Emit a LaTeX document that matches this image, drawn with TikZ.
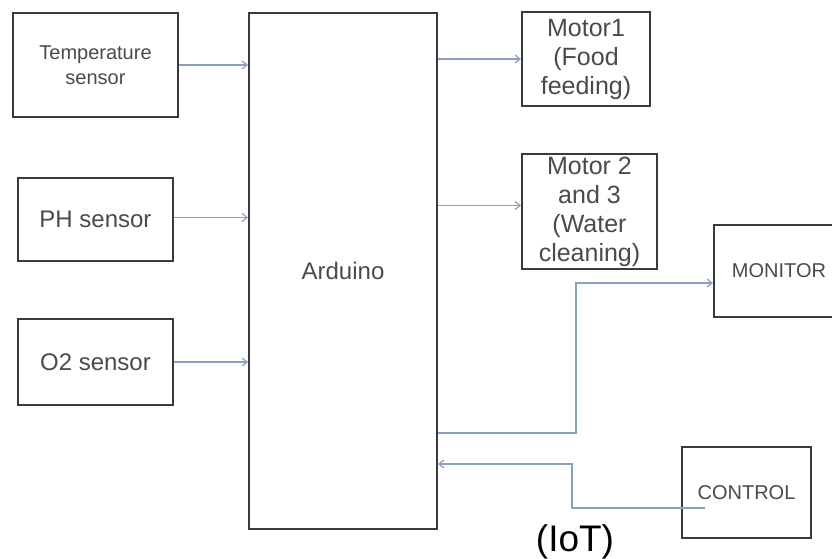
\documentclass[tikz,border=0pt]{standalone}
\usepackage{fontspec}
\setmainfont{Liberation Sans}
\usepackage{xcolor}
\usepackage{tikz}
\usetikzlibrary{positioning,calc,arrows.meta}
\definecolor{boxline}{HTML}{3A3A3A}
\definecolor{linkline}{HTML}{8CA0C4}
\definecolor{txt}{HTML}{4A4A4A}

\begin{document}
\begin{tikzpicture}[x=1pt, y=-1pt,
  block/.style={draw=boxline, line width=2pt, rectangle, inner sep=0pt, align=center, text=txt},
  link/.style={draw=linkline, line width=1.2pt, -{Straight Barb[length=5pt,width=8pt]}}]
  \useasboundingbox (0,0) rectangle (832,559);

  % sensors
  \node[block, minimum width=165pt, minimum height=104pt, font=\fontsize{20}{25}\selectfont] (temp) at (95.5, 65) {Temperature\\sensor};
  \node[block, minimum width=155pt, minimum height=83pt, font=\fontsize{24}{28}\selectfont] (ph) at (95.5, 219.5) {PH sensor};
  \node[block, minimum width=155pt, minimum height=86pt, font=\fontsize{24}{28}\selectfont] (o2) at (95.5, 362) {O2 sensor};

  % controller
  \node[block, minimum width=188pt, minimum height=516pt, font=\fontsize{24}{28}\selectfont] (arduino) at (343, 271) {Arduino};

  % outputs
  \node[block, minimum width=128pt, minimum height=94pt, font=\fontsize{25}{29}\selectfont] (motor1) at (586, 59) {Motor1\\(Food\\feeding)};
  \node[block, minimum width=135pt, minimum height=115pt, font=\fontsize{25}{29}\selectfont] (motor2) at (589.5, 211.5) {Motor 2\\and 3\\(Water\\cleaning)};
  \node[block, minimum width=130pt, minimum height=92pt, font=\fontsize{20}{24}\selectfont] (monitor) at (779, 271) {MONITOR};
  \node[block, minimum width=129pt, minimum height=91pt, font=\fontsize{20}{24}\selectfont] (control) at (746.5, 492.5) {CONTROL};
  \node[text=black, font=\fontsize{37}{40}\selectfont] (iot) at (575, 542) {(IoT)};

  % sensor inputs
  \draw[link] (temp.east) -- (temp.east -| arduino.west);
  \draw[link] ([yshift=2pt]ph.east) -- ([yshift=2pt]ph.east -| arduino.west);
  \draw[link] (o2.east) -- (o2.east -| arduino.west);

  % motor outputs
  \draw[link] (motor1.west -| arduino.east) -- (motor1.west);
  \draw[link] ([yshift=6pt]motor2.west -| arduino.east) -- ([yshift=6pt]motor2.west);

  % IoT links
  \coordinate (mbend) at (576, 433);
  \draw[link] (mbend -| arduino.east) -- (mbend) |- ([yshift=-12pt]monitor.west);
  \coordinate (cstart) at (705, 508);
  \coordinate (cbend) at (572, 464);
  \draw[link] (cstart) -| (cbend) -- (cbend -| arduino.east);
\end{tikzpicture}
\end{document}
